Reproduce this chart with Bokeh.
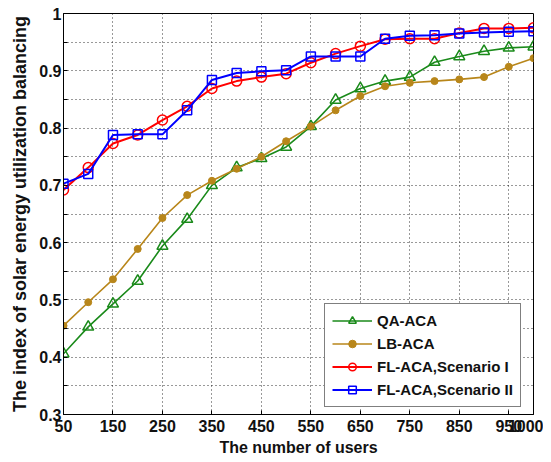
from bokeh.plotting import figure
from bokeh.models import FixedTicker, Legend, LegendItem
from bokeh.embed import file_html
from bokeh.resources import INLINE

users = [50, 100, 150, 200, 250, 300, 350, 400, 450, 500, 550, 600, 650, 700, 750, 800, 850, 900, 950, 1000]
qa_aca = [0.406, 0.453, 0.493, 0.533, 0.594, 0.641, 0.700, 0.731, 0.747, 0.767, 0.803, 0.849, 0.869, 0.882, 0.889, 0.915, 0.925, 0.934, 0.940, 0.942]
lb_aca = [0.455, 0.496, 0.536, 0.589, 0.643, 0.683, 0.708, 0.729, 0.750, 0.777, 0.803, 0.831, 0.856, 0.873, 0.879, 0.882, 0.885, 0.889, 0.907, 0.922]
fl_s1 = [0.692, 0.731, 0.773, 0.788, 0.814, 0.838, 0.869, 0.882, 0.889, 0.895, 0.914, 0.930, 0.943, 0.955, 0.956, 0.956, 0.966, 0.974, 0.974, 0.975]
fl_s2 = [0.703, 0.720, 0.788, 0.789, 0.789, 0.831, 0.884, 0.896, 0.899, 0.901, 0.925, 0.925, 0.925, 0.956, 0.961, 0.962, 0.965, 0.967, 0.968, 0.969]

x_ticks = [50, 150, 250, 350, 450, 550, 650, 750, 850, 950, 1000]
y_ticks = [0.3, 0.4, 0.5, 0.6, 0.7, 0.8, 0.9, 1.0]
y_minor = [0.35, 0.45, 0.55, 0.65, 0.75, 0.85, 0.95]
y_labels = {0.3: "0.3", 0.4: "0.4", 0.5: "0.5", 0.6: "0.6", 0.7: "0.7", 0.8: "0.8", 0.9: "0.9", 1.0: "1"}

FONT = "Liberation Sans"

p = figure(width=543, height=462, output_backend="svg", toolbar_location=None,
           x_range=(50, 1000), y_range=(0.3, 1.0),
           min_border_left=63, min_border_right=10, min_border_top=13, min_border_bottom=48)
p.background_fill_color = "white"
p.outline_line_color = "black"
p.outline_line_width = 1

p.xaxis.ticker = FixedTicker(ticks=x_ticks)
p.yaxis.ticker = FixedTicker(ticks=y_ticks, minor_ticks=y_minor)
p.yaxis.major_label_overrides = y_labels

for ax in (p.xaxis[0], p.yaxis[0]):
    ax.major_tick_in = 4
    ax.major_tick_out = 0
    ax.minor_tick_in = 4
    ax.minor_tick_out = 0
    ax.axis_line_color = "black"
    ax.major_label_text_font = FONT
    ax.major_label_text_font_style = "bold"
    ax.major_label_text_font_size = "16px"
    ax.major_label_text_color = "#111111"
    ax.axis_label_text_font = FONT
    ax.axis_label_text_font_style = "bold"
    ax.axis_label_text_color = "#111111"

p.xaxis.major_label_standoff = 5
p.yaxis.major_label_standoff = 2
p.xaxis.axis_label = "The number of users"
p.xaxis.axis_label_text_font_size = "16px"
p.xaxis.axis_label_standoff = 4
p.yaxis.axis_label = "The index of solar energy utilization balancing"
p.yaxis.axis_label_text_font_size = "18px"
p.yaxis.axis_label_standoff = 6

p.xgrid.grid_line_color = "black"
p.xgrid.grid_line_dash = "1 3"
p.xgrid.grid_line_alpha = 0.8
p.ygrid.grid_line_color = "black"
p.ygrid.grid_line_dash = "1 3"
p.ygrid.grid_line_alpha = 0.8
p.ygrid.minor_grid_line_color = "black"
p.ygrid.minor_grid_line_dash = "1 3"
p.ygrid.minor_grid_line_alpha = 0.8

GREEN = "#1a8a1a"
GOLD = "#b8861a"
RED = "#ff0000"
BLUE = "#0000ff"

g1 = p.line(users, qa_aca, line_color=GREEN, line_width=1.6)
m1 = p.scatter(users, qa_aca, marker="triangle", size=11, line_color=GREEN, fill_color=None, line_width=1.5)
g2 = p.line(users, lb_aca, line_color=GOLD, line_width=1.6)
m2 = p.scatter(users, lb_aca, marker="circle", size=7, line_color=GOLD, fill_color=GOLD)
g3 = p.line(users, fl_s1, line_color=RED, line_width=2)
m3 = p.scatter(users, fl_s1, marker="circle", size=10, line_color=RED, fill_color=None, line_width=1.5)
g4 = p.line(users, fl_s2, line_color=BLUE, line_width=2)
m4 = p.scatter(users, fl_s2, marker="square", size=9, line_color=BLUE, fill_color=None, line_width=1.5)

legend = Legend(items=[
    LegendItem(label="QA-ACA", renderers=[g1, m1]),
    LegendItem(label="LB-ACA", renderers=[g2, m2]),
    LegendItem(label="FL-ACA,Scenario I", renderers=[g3, m3]),
    LegendItem(label="FL-ACA,Scenario II", renderers=[g4, m4]),
], location=(261, 7))
legend.border_line_color = "black"
legend.border_line_width = 1
legend.background_fill_color = "white"
legend.background_fill_alpha = 1
legend.label_text_font = FONT
legend.label_text_font_style = "bold"
legend.label_text_font_size = "15px"
legend.label_text_color = "#111111"
legend.glyph_width = 40
legend.glyph_height = 19
legend.label_height = 19
legend.spacing = 4
legend.padding = 7
legend.margin = 0
legend.label_standoff = 5
p.add_layout(legend, "center")

open("out.html", "w").write(file_html(p, INLINE))
